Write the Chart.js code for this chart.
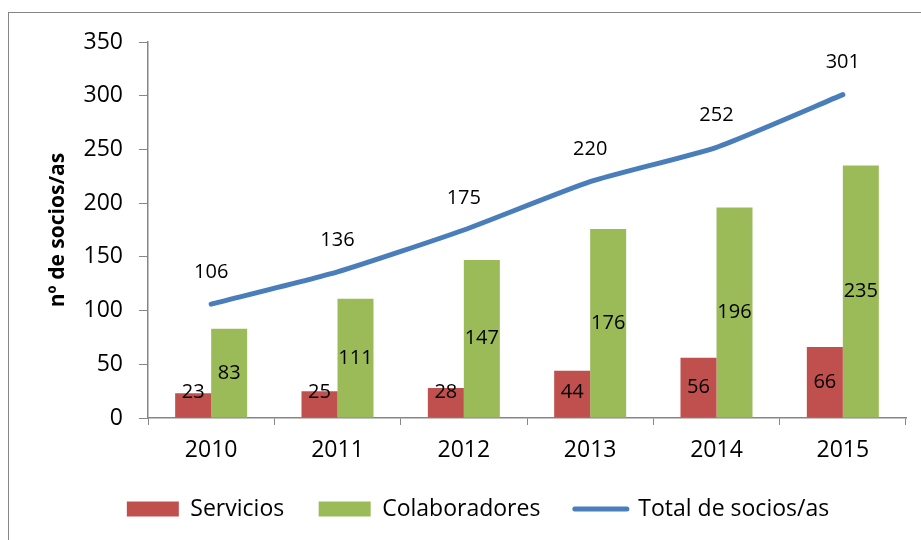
<!DOCTYPE html>
<html><head><meta charset="utf-8">
<script src="https://cdn.jsdelivr.net/npm/chart.js@4.4.0/dist/chart.umd.min.js"></script>
<style>
html,body{margin:0;padding:0;background:#fff;width:921px;height:540px;overflow:hidden;}
#frame{position:absolute;left:8px;top:12px;width:1000px;height:600px;border:1.5px solid #868686;box-sizing:border-box;}
#wrap{position:absolute;left:0;top:0;width:921px;height:540px;}
</style></head><body>
<div id="frame"></div>
<div id="wrap"><canvas id="c" width="921" height="540"></canvas></div>
<script>
const years = ['2010', '2011', '2012', '2013', '2014', '2015'];
const servicios = [23, 25, 28, 44, 56, 66];
const colaboradores = [83, 111, 147, 176, 196, 235];
const totalSocios = [106, 136, 175, 220, 252, 301];
const seriesNames = ['Servicios', 'Colaboradores', 'Total de socios/as'];
const yAxisTitle = 'nº de socios/as';
const yMin = 0, yMax = 350, yStep = 50;

const RED = '#C0504D', GREEN = '#9BBB59', BLUE = '#4A7EBB', AXIS = '#868686';
const FONT = '"Open Sans", "Noto Sans", sans-serif';
Chart.defaults.font.family = FONT;
Chart.defaults.color = '#000';

const valueLabels = {
  id: 'valueLabels',
  afterDatasetsDraw(chart) {
    const ctx = chart.ctx;
    ctx.save();
    ctx.font = '20px ' + FONT;
    ctx.fillStyle = '#000';
    ctx.textAlign = 'center';
    ctx.textBaseline = 'middle';
    chart.data.datasets.forEach((ds, di) => {
      const meta = chart.getDatasetMeta(di);
      meta.data.forEach((el, i) => {
        const v = ds.data[i];
        let y;
        if (ds.type === 'line') {
          y = el.y - 32;
        } else {
          const c = (el.y + el.base) / 2;
          y = di === 0 ? Math.min(c, el.base - 25) : c;
        }
        ctx.fillText(String(v), el.x, y);
      });
    });
    ctx.restore();
  }
};

const legendShift = {
  id: 'legendShift',
  afterLayout(chart) {
    if (chart.legend) { chart.legend.left += 25; chart.legend.right += 25; }
  }
};

new Chart(document.getElementById('c'), {
  data: {
    labels: years,
    datasets: [
      { type: 'bar', label: seriesNames[0], data: servicios, backgroundColor: RED, order: 1,
        categoryPercentage: 0.57, barPercentage: 1.0 },
      { type: 'bar', label: seriesNames[1], data: colaboradores, backgroundColor: GREEN, order: 1,
        categoryPercentage: 0.57, barPercentage: 1.0 },
      { type: 'line', label: seriesNames[2], data: totalSocios, borderColor: BLUE, backgroundColor: BLUE,
        borderWidth: 5, pointRadius: 0, tension: 0.18, borderCapStyle: 'round', borderJoinStyle: 'round',
        fill: false, order: 0 }
    ]
  },
  options: {
    responsive: false,
    animation: false,
    devicePixelRatio: 1,
    layout: { padding: { top: 42, right: 15, bottom: 9.5, left: 0 } },
    plugins: {
      tooltip: { enabled: false },
      title: { display: false },
      legend: {
        position: 'bottom',
        labels: {
          usePointStyle: true,
          pointStyleWidth: 52,
          boxHeight: 15,
          padding: 34.5,
          font: { size: 23 },
          color: '#000',
          generateLabels(chart) {
            return chart.data.datasets.map((ds, i) => ({
              text: ds.label,
              fillStyle: ds.type === 'line' ? 'rgba(0,0,0,0)' : ds.backgroundColor,
              strokeStyle: ds.type === 'line' ? ds.borderColor : ds.backgroundColor,
              lineWidth: ds.type === 'line' ? 5 : 0,
              lineCap: 'round',
              pointStyle: ds.type === 'line' ? 'line' : 'rect',
              hidden: false,
              datasetIndex: i
            }));
          }
        }
      }
    },
    scales: {
      x: {
        type: 'category',
        offset: true,
        grid: { display: true, drawOnChartArea: false, drawTicks: true, tickLength: 7, color: AXIS, offset: true },
        border: { display: true, color: AXIS, width: 1.5 },
        ticks: { font: { size: 23 }, color: '#000', padding: 12, maxRotation: 0 },
        afterFit(scale) { scale.height = 45; }
      },
      y: {
        min: yMin, max: yMax,
        grid: { display: true, drawOnChartArea: false, drawTicks: true, tickLength: 9, color: AXIS },
        border: { display: true, color: AXIS, width: 1.5 },
        ticks: { stepSize: yStep, font: { size: 23 }, color: '#000', padding: 16 },
        title: { display: true, text: yAxisTitle, font: { size: 21, weight: 'bold' }, color: '#000', padding: { top: 45, bottom: 0 } },
        afterFit(scale) { scale.width = 148; }
      }
    }
  },
  plugins: [valueLabels, legendShift]
});
</script>
</body></html>
